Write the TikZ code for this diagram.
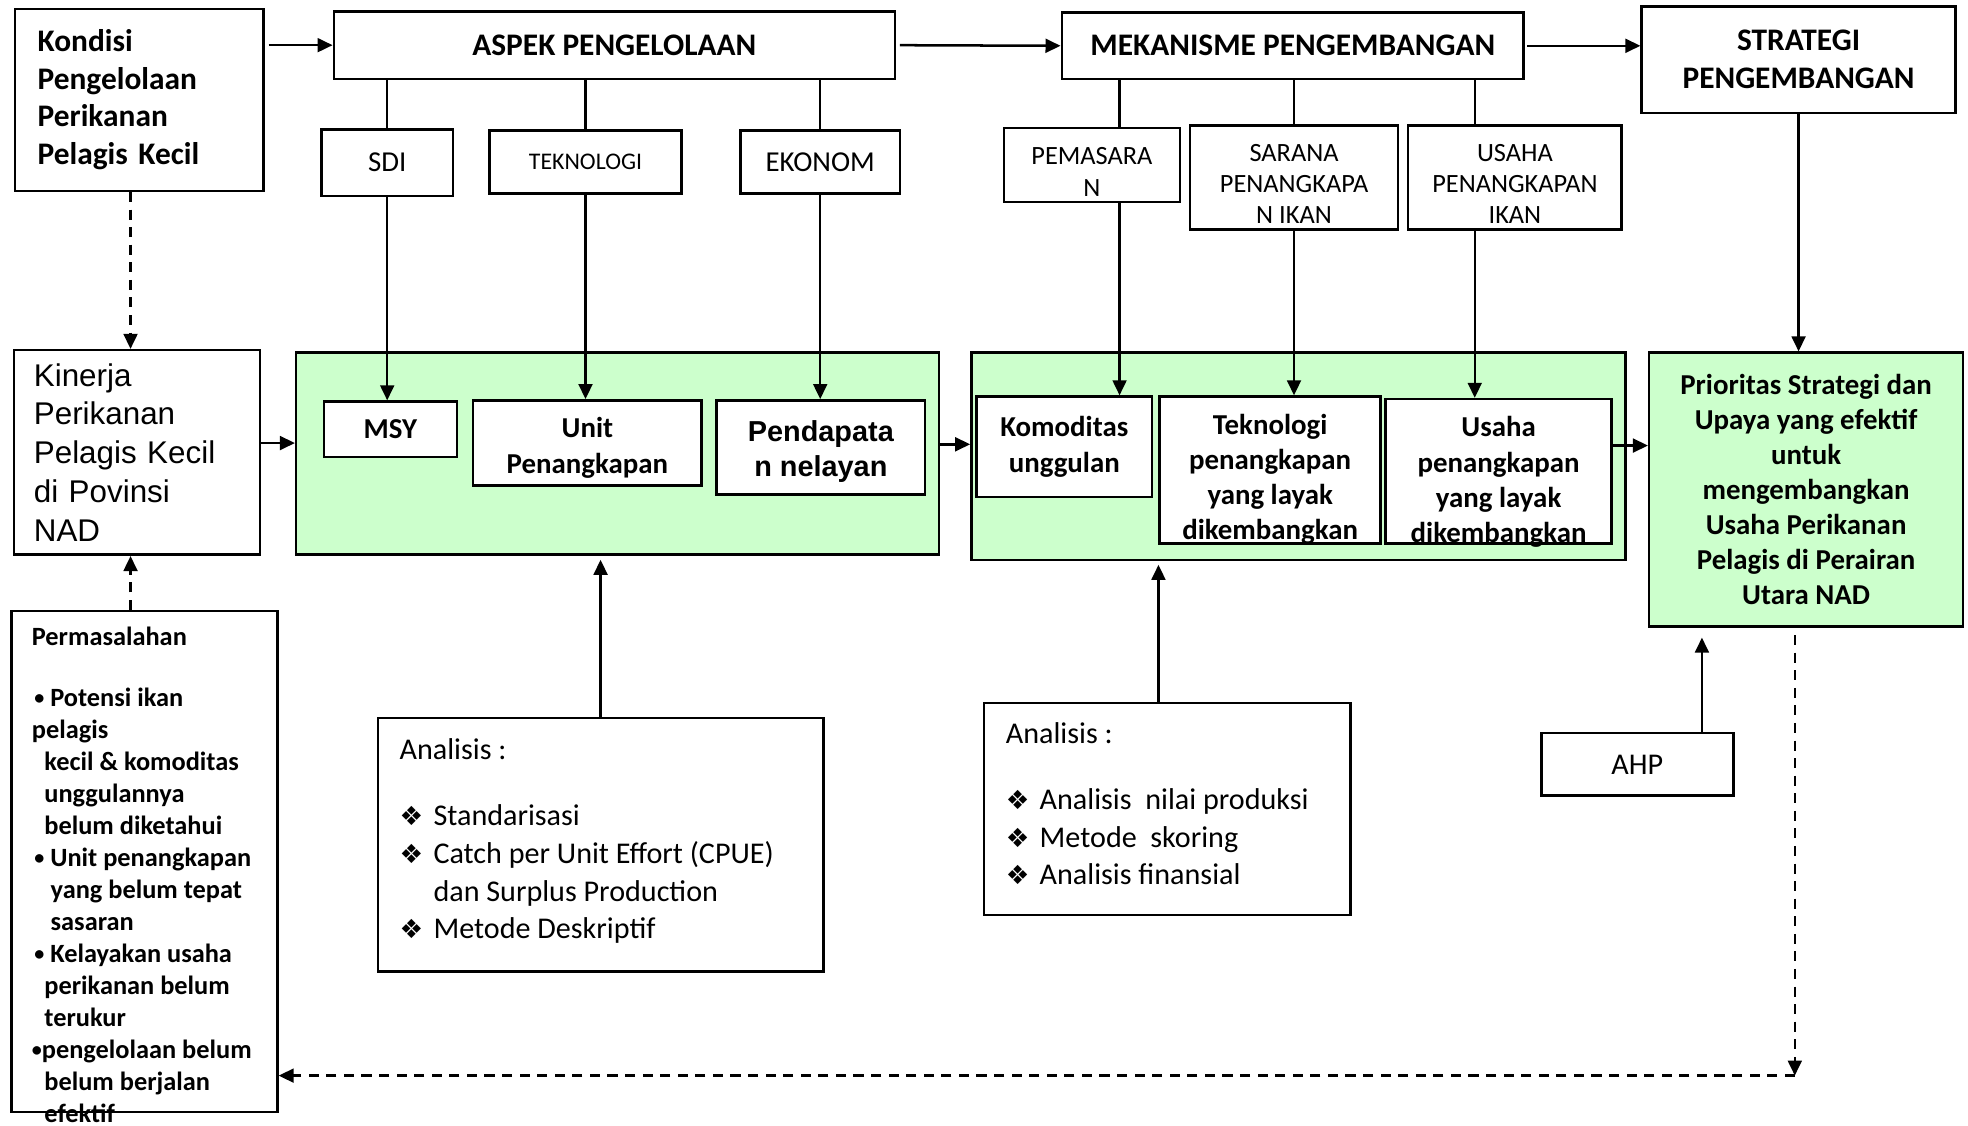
\documentclass[tikz,border=0pt]{standalone}
\usepackage{fontspec}
\setmainfont{Carlito}
\newfontfamily\arialf{Liberation Sans}
\newfontfamily\symf{DejaVu Sans}
\usetikzlibrary{arrows.meta,calc}
\definecolor{paleGreen}{HTML}{CCFFCC}
\newcommand\fs[2]{\fontsize{#1}{#2}\selectfont}
\newcommand\dia{\makebox[13.5pt][l]{\symf\fontsize{10.5}{12}\selectfont ❖}}
\newcommand\bul{\raisebox{0.6pt}{\fs{8}{10}•}}
\begin{document}
\begin{tikzpicture}[x=0.5pt,y=-0.5pt,
  % rect={x1}{y1}{x2}{y2}: a box given by its corners
  rect/.style n args={4}{at={(0.5*#1+0.5*#3,0.5*#2+0.5*#4)},anchor=center,
    minimum width={(#3-#1)*0.5pt},minimum height={(#4-#2)*0.5pt}},
  box/.style={draw,line width=1pt,inner sep=0pt,fill=white},
  gbox/.style={box,fill=paleGreen},
  arr/.style={line width=1pt,-{Triangle[length=6pt,width=5.5pt]}},
  plain/.style={line width=1pt},
  dashline/.style={arr,dash pattern=on 4pt off 3pt},
  ttl/.style={font=\bfseries\fs{12.5}{15},align=center},
  sub/.style={font=\fs{10.5}{12.5},align=center},
  inb/.style={font=\bfseries\fs{11.5}{14},align=center},
  lefttext/.style={anchor=north west,inner sep=0pt,align=left}
]
\useasboundingbox (0,0) rectangle (1568,897);

% top row
\node[box,rect={12}{7}{210}{152},font=\bfseries\fs{12.5}{15},text width=81pt,align=left] (kondisi) {Kondisi\\Pengelolaan\\Perikanan\\Pelagis Kecil};
\node[box,rect={266}{9}{713}{63},ttl] (aspek) {ASPEK PENGELOLAAN};
\node[box,rect={846}{10}{1214}{63},ttl] (mekan) {MEKANISME PENGEMBANGAN};
\node[box,rect={1308}{5}{1558}{90},ttl] (strat) {STRATEGI\\PENGEMBANGAN};

% aspects and mechanisms
\node[box,rect={256}{103}{361}{156},font=\fs{11.5}{14}] (sdi) {SDI};
\node[box,rect={390}{104}{543}{154},font=\fs{9.5}{12}] (tek) {TEKNOLOGI};
\node[box,rect={590}{104}{717}{154},font=\fs{11.5}{14}] (eko) {EKONOM};
\node[box,rect={800}{102}{940}{161}] (pem) {};
\node[sub] (pem-t) at (870,137) {PEMASARA\\N};
\node[box,rect={948}{100}{1114}{183}] (sar) {};
\node[sub] (sar-t) at (1031,146.5) {SARANA\\PENANGKAPA\\N IKAN};
\node[box,rect={1122}{100}{1292}{183}] (usa) {};
\node[sub] (usa-t) at (1207,146.5) {USAHA\\PENANGKAPAN\\IKAN};

% middle row
\node[box,rect={11}{279}{207}{442},font=\arialf\fs{12.5}{15.5},text width=82pt,align=left] (kin) {Kinerja\\Perikanan\\Pelagis Kecil\\di Povinsi\\NAD};

\node[gbox,rect={236}{281}{748}{442}] (g1) {};
\node[box,rect={258}{320}{364}{364},inb] (msy) {MSY};
\node[box,rect={377}{319}{559}{387}] (unit) {};
\node[inb,font=\bfseries\fs{11.5}{14.5}] (unit-t) at (468,357) {Unit\\Penangkapan};
\node[box,rect={571}{319}{737}{394}] (pend) {};
\node[font=\arialf\bfseries\fs{11.5}{14},align=center] (pend-t) at (654,360) {Pendapata\\n nelayan};

\node[gbox,rect={774}{281}{1295}{446}] (g2) {};
\node[box,rect={778}{316}{918}{396},inb] (kom) {Komoditas\\unggulan};
\node[box,rect={924}{316}{1100}{433}] (tekp) {};
\node[inb] (tekp-t) at (1012,382) {Teknologi\\penangkapan\\yang layak\\dikembangkan};
\node[box,rect={1104}{318}{1284}{433}] (usp) {};
\node[inb] (usp-t) at (1194,384) {Usaha\\penangkapan\\yang layak\\dikembangkan};

\node[gbox,rect={1314}{281}{1564}{499},inb] (prio) {Prioritas Strategi dan\\Upaya yang efektif\\untuk\\mengembangkan\\Usaha Perikanan\\Pelagis di Perairan\\Utara NAD};

% problems box
\node[box,rect={9}{487}{221}{886}] (perm) {};
\node[lefttext,font=\bfseries\fs{10.5}{12.75}] (perm-t) at (25,499) {Permasalahan\\[11.5pt]
\hspace*{1pt}\bul\ Potensi ikan\\
pelagis\\
\hspace*{5pt}kecil \& komoditas\\
\hspace*{5pt}unggulannya\\
\hspace*{5pt}belum diketahui\\
\hspace*{1pt}\bul\ Unit penangkapan\\
\hspace*{7.5pt}yang belum tepat\\
\hspace*{7.5pt}sasaran\\
\hspace*{1pt}\bul\ Kelayakan usaha\\
\hspace*{5pt}perikanan belum\\
\hspace*{5pt}terukur\\
\bul pengelolaan belum\\
\hspace*{5pt}belum berjalan\\
\hspace*{5pt}efektif};

% analysis boxes
\node[box,rect={301}{572}{656}{774}] (ana1) {};
\node[lefttext,font=\fs{12}{15}] (ana1-t) at (318,588) {Analisis :\\[11.5pt]
\dia Standarisasi\\
\dia Catch per Unit Effort (CPUE)\\
\hspace*{13.5pt}dan Surplus Production\\
\dia Metode Deskriptif};

\node[box,rect={784}{560}{1076}{729}] (ana2) {};
\node[lefttext,font=\fs{12}{15}] (ana2-t) at (801,575) {Analisis :\\[11.5pt]
\dia Analisis\ \ nilai produksi\\
\dia Metode\ \ skoring\\
\dia Analisis finansial};

\node[box,rect={1228}{584}{1381}{634},font=\fs{12}{14}] (ahp) {AHP};

% helper points for off-centre connectors
\coordinate (pemx) at ($(pem.north)+(22,0)$);
\coordinate (usax) at ($(usa.north)+(-32,0)$);
\coordinate (kx) at ([xshift=-3.5pt]kondisi.south);
\coordinate (kine) at ([yshift=3.75pt]kin.east);
\coordinate (g1e) at ([yshift=3.75pt]g1.east);
\coordinate (uspe) at ([yshift=10.25pt]usp.east);
\coordinate (a2x) at ([xshift=-3.5pt]ana2.north);
\coordinate (ahx) at ([xshift=25.75pt]ahp.north);
\coordinate (px) at ([xshift=-4.5pt]prio.south);
\coordinate (pmx) at ([xshift=-5.5pt]perm.north);
\coordinate (loop) at (1430,857);

% top flow
\draw[arr,shorten <=1.5pt] (kondisi.east |- aspek.west) -- (aspek.west);
\draw[arr,shorten <=1.5pt] (aspek.east) -- (mekan.west);
\draw[arr,shorten <=1pt] (mekan.east) -- (mekan.east -| strat.west);

% branches
\draw[plain] (sdi.north) -- (sdi.north |- aspek.south);
\draw[plain] (tek.north) -- (tek.north |- aspek.south);
\draw[plain] (eko.north) -- (eko.north |- aspek.south);
\draw[plain] (pemx) -- (pemx |- mekan.south);
\draw[plain] (sar.north) -- (sar.north |- mekan.south);
\draw[plain] (usax) -- (usax |- mekan.south);

\draw[arr] (sdi.south) -- (sdi.south |- msy.north);
\draw[arr] (tek.south) -- (tek.south |- unit.north);
\draw[arr] (eko.south) -- (eko.south |- pend.north);
\draw[arr] (pemx |- pem.south) -- (pemx |- kom.north);
\draw[arr] (sar.south) -- (sar.south |- tekp.north);
\draw[arr] (usax |- usa.south) -- (usax |- usp.north);
\draw[arr] (strat.south) -- (strat.south |- prio.north);

% middle flow
\draw[dashline] (kx) -- (kx |- kin.north);
\draw[arr] (kine) -- (kine -| g1.west);
\draw[arr] (g1e) -- (g1e -| g2.west);
\draw[arr] (uspe) -- (uspe -| prio.west);

% analyses
\draw[arr,shorten >=1.5pt] (ana1.north) -- (ana1.north |- g1.south);
\draw[arr,shorten >=1.5pt] (a2x) -- (a2x |- g2.south);
\draw[arr,shorten >=4pt] (ahx) -- (ahx |- prio.south);

% feedback loop
\draw[dashline] (pmx) -- (pmx |- kin.south);
\draw[dashline,shorten <=3pt] (px) -- (loop);
\draw[dashline] (loop) -- (loop -| perm.east);
\end{tikzpicture}
\end{document}
